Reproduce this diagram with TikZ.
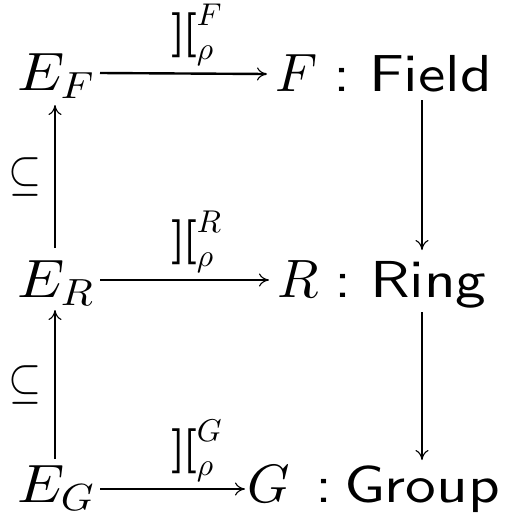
\documentclass[tikz,border=0pt]{standalone}
\DeclareFontFamily{OML}{cmm}{\skewchar\font127}
\DeclareFontShape{OML}{cmm}{m}{it}{<->cmmi10}{}
\DeclareFontFamily{OMS}{cmsy}{\skewchar\font48}
\DeclareFontShape{OMS}{cmsy}{m}{n}{<->cmsy10}{}
\DeclareFontFamily{OT1}{cmr}{}
\DeclareFontShape{OT1}{cmr}{m}{n}{<->cmr10}{}
\DeclareFontShape{OT1}{cmr}{bx}{n}{<->cmbx10}{}
\DeclareFontFamily{OT1}{cmss}{}
\DeclareFontShape{OT1}{cmss}{m}{n}{<->cmss10}{}
\usetikzlibrary{arrows.meta}
\newcommand{\sem}{\mbox{\fontencoding{OT1}\fontfamily{cmr}\fontseries{bx}\selectfont ]\kern-3pt[}}
\newcommand{\typ}[1]{\scalebox{1.18}[1]{\fontencoding{OT1}\fontfamily{cmss}\fontsize{52}{58}\selectfont #1}}
\begin{document}
\begin{tikzpicture}[x=1pt,y=1pt,
  obj/.style={inner sep=0pt,outer sep=0pt,anchor=base west,font=\fontsize{54}{60}\selectfont},
  lbl/.style={inner sep=0pt,font=\fontsize{45}{50}\selectfont},
  incl/.style={inner sep=0pt,font=\fontsize{50}{55}\selectfont},
  arr/.style={line width=2.4pt,-{To[length=10pt,width=13pt,line width=1.1pt]}}]
\useasboundingbox (0,0) rectangle (516,-515);
\node[obj] (EF) at (17,-90) {\scalebox{1.1}[1]{$E_F$}};
\node[obj] (ER) at (17,-297) {\scalebox{1.1}[1]{$E_R$}};
\node[obj] (EG) at (17,-502) {\scalebox{1.1}[1]{$E_G$}};
\node[obj] (F) at (275,-91) {\makebox[58pt][l]{$F$}\makebox[36pt][l]{\typ{:}}\typ{Field}};
\node[obj] (R) at (277,-297) {\makebox[57pt][l]{$R$}\makebox[36pt][l]{\typ{:}}\typ{Ring}};
\node[obj] (G) at (247,-502) {\makebox[68pt][l]{$G$}\makebox[29pt][l]{\typ{:}}\typ{Group}};
% horizontal
\draw[arr] (EF.base west) ++(83,17) coordinate (a1) -- ([shift={(-8,17)}]F.base west)
  node[lbl,pos=0,anchor=south west,xshift=70pt,yshift=6pt] (l1) {$\sem^F_\rho$};
\draw[arr] (ER.base west) ++(83,17) coordinate (a2) -- ([shift={(-8,17)}]R.base west)
  node[lbl,pos=0,anchor=south west,xshift=70pt,yshift=6pt] (l2) {$\sem^R_\rho$};
\draw[arr] (EG.base west) ++(83,13) coordinate (a3) -- ([shift={(-2,13)}]G.base west)
  node[lbl,pos=0,anchor=south west,xshift=70pt,yshift=6pt] (l3) {$\sem^G_\rho$};
% left verticals
\draw[arr] ([shift={(38,43)}]EG.base west) -- ([shift={(38,-13)}]ER.base west)
  node[incl,midway,left=12pt] (s1) {\scalebox{0.85}[1]{$\subseteq$}};
\draw[arr] ([shift={(38,49)}]ER.base west) -- ([shift={(38,-15)}]EF.base west)
  node[incl,midway,left=12pt] (s2) {\scalebox{0.85}[1]{$\subseteq$}};
% right verticals
\draw[arr] ([shift={(147,-9)}]F.base west) -- ([shift={(145,47)}]R.base west);
\draw[arr] ([shift={(145,-15)}]R.base west) -- ([shift={(175,42)}]G.base west);
\end{tikzpicture}
\end{document}
